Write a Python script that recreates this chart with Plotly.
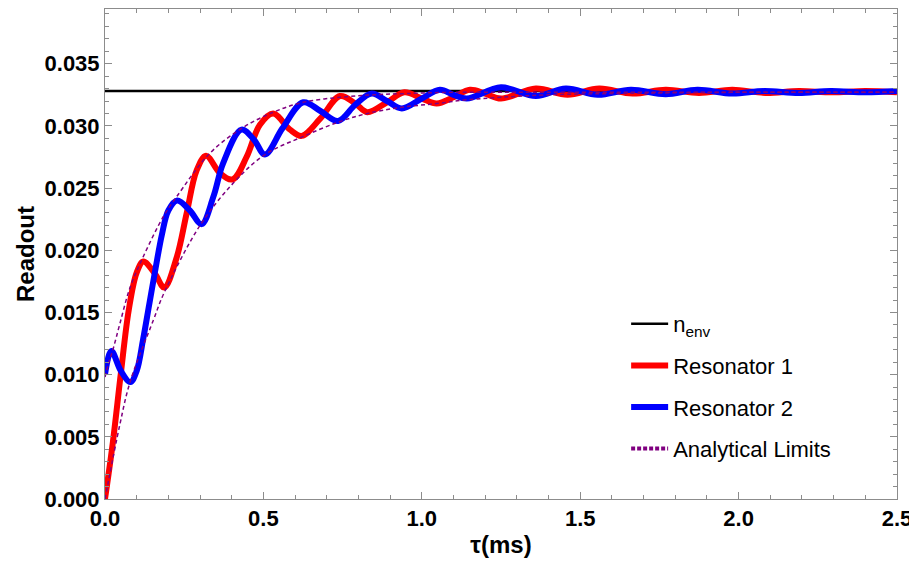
import plotly.graph_objects as go

# n_env level
n_env = 0.0328
t_range = [0.0, 2.5]

# Resonator 1 (red)
red_t = [0.0, 0.025, 0.05, 0.075, 0.1, 0.121, 0.158, 0.187,
         0.226, 0.258, 0.289, 0.319, 0.363, 0.403, 0.447, 0.489, 0.531, 0.584,
         0.621, 0.68, 0.742, 0.79, 0.828, 0.89, 0.945, 1.0, 1.047, 1.1, 1.152,
         1.2, 1.25, 1.36, 1.46, 1.56, 1.665, 1.77, 1.875, 1.98, 2.085, 2.19,
         2.295, 2.40, 2.5]
red_y = [0.0, 0.0046, 0.0101, 0.0152, 0.0182, 0.0191,
         0.0181, 0.0170, 0.0194, 0.0230, 0.0264, 0.0276, 0.0262, 0.0257, 0.0275,
         0.0301, 0.0310, 0.0297, 0.0292, 0.0306, 0.0324, 0.0318, 0.0311, 0.0319,
         0.0327, 0.0322, 0.0318, 0.0323, 0.0329, 0.0326, 0.0322, 0.0330, 0.0325,
         0.0330, 0.0326, 0.0329, 0.03265, 0.0329, 0.03265, 0.0328, 0.0327,
         0.0328, 0.0327]

# Resonator 2 (blue)
blue_t = [0.0, 0.02, 0.05, 0.08, 0.100, 0.12, 0.14, 0.16, 0.18, 0.2, 0.228,
          0.268, 0.305, 0.342, 0.373, 0.431, 0.47, 0.505, 0.56, 0.626, 0.68,
          0.736, 0.79, 0.842, 0.89, 0.937, 1.0, 1.057, 1.1, 1.142, 1.25, 1.36,
          1.455, 1.555, 1.66, 1.77, 1.87, 1.98, 2.08, 2.19, 2.29, 2.40, 2.5]
blue_y = [0.0100, 0.0119, 0.0103, 0.0094, 0.0103, 0.0128, 0.0157, 0.0186,
          0.0213, 0.0232, 0.0240, 0.0232, 0.0221, 0.0243, 0.0270, 0.0297,
          0.0289, 0.0277, 0.0298, 0.0319, 0.0312, 0.0304, 0.0317, 0.0326,
          0.0320, 0.0314, 0.0322, 0.0329, 0.0325, 0.0322, 0.0331, 0.0324,
          0.0330, 0.0325, 0.0329, 0.03255, 0.0329, 0.0326, 0.0328, 0.03265,
          0.0328, 0.0327, 0.0328]

# analytical limits (dashed purple)
upper_t = [0.0, 0.01, 0.026, 0.047, 0.079, 0.121, 0.184, 0.226, 0.331, 0.431,
           0.531, 0.626, 0.742, 0.85, 0.95, 1.1, 1.3, 1.6, 2.0, 2.5]
upper_y = [0.0098, 0.0108, 0.0121, 0.0141, 0.0170, 0.0195, 0.0227, 0.0243,
           0.0278, 0.0298, 0.0311, 0.0319, 0.0323, 0.0325, 0.0326, 0.0327,
           0.0327, 0.0327, 0.0327, 0.0327]
lower_t = [0.0, 0.047, 0.079, 0.153, 0.187, 0.300, 0.405, 0.505, 0.621, 0.736,
           0.828, 0.937, 1.047, 1.142, 1.25, 1.4, 1.6, 2.0, 2.5]
lower_y = [0.0, 0.0060, 0.0094, 0.0144, 0.0166, 0.0220, 0.0254, 0.0277,
           0.0291, 0.0303, 0.0310, 0.0315, 0.0318, 0.0321, 0.0323, 0.0325,
           0.0326, 0.0327, 0.0327]

fig = go.Figure()
fig.add_trace(go.Scatter(x=t_range, y=[n_env, n_env], mode="lines",
                         line=dict(color="black", width=2.5),
                         name="n<sub>env</sub>", legendgroup="a"))
fig.add_trace(go.Scatter(x=red_t, y=red_y, mode="lines", line_shape="spline",
                         line=dict(color="#ff0000", width=6),
                         name="Resonator 1", legendgroup="b"))
fig.add_trace(go.Scatter(x=blue_t, y=blue_y, mode="lines", line_shape="spline",
                         line=dict(color="#0000ff", width=6),
                         name="Resonator 2", legendgroup="c"))
fig.add_trace(go.Scatter(x=upper_t, y=upper_y, mode="lines", line_shape="spline",
                         line=dict(color="#800080", width=1.5, dash="4px,3px"),
                         showlegend=False))
fig.add_trace(go.Scatter(x=lower_t, y=lower_y, mode="lines", line_shape="spline",
                         line=dict(color="#800080", width=1.5, dash="4px,3px"),
                         showlegend=False))
# legend entry only, thicker sample like the reference
fig.add_trace(go.Scatter(x=[None], y=[None], mode="lines",
                         line=dict(color="#800080", width=4, dash="4px,2px"),
                         name="Analytical Limits", legendgroup="d"))

tick_font = dict(family="Liberation Sans", size=22, color="black", weight="bold")
title_font = dict(family="Liberation Sans", size=24, color="black", weight="bold")
axis_common = dict(
    showline=True, linecolor="#8c8c8c", linewidth=1, mirror="allticks",
    ticks="inside", ticklen=7, tickcolor="#8c8c8c", showgrid=False,
    zeroline=False, tickfont=tick_font, automargin=False,
)

fig.update_xaxes(
    range=[0, 2.5], dtick=0.5, tickformat=".1f",
    minor=dict(ticks="inside", ticklen=4, dtick=0.1, tickcolor="#8c8c8c"),
    title=dict(text="τ(ms)", font=title_font, standoff=5),
    **axis_common,
)
fig.update_yaxes(
    range=[0, 0.0394], dtick=0.005, tickformat=".3f",
    minor=dict(ticks="inside", ticklen=4, dtick=0.001, tickcolor="#8c8c8c"),
    title=dict(text="Readout", font=title_font, standoff=3),
    **axis_common,
)

# the page body adds an 8px offset, so margins are shifted to compensate
fig.update_layout(
    width=917, height=568,
    margin=dict(l=97, r=28, t=1, b=77),
    plot_bgcolor="white", paper_bgcolor="white",
    legend=dict(x=0.658, y=0.40, xanchor="left", yanchor="top",
                font=dict(family="Liberation Sans", size=22, color="black"),
                tracegroupgap=10, itemwidth=37, bgcolor="rgba(0,0,0,0)"),
)

fig.write_html("out.html")
